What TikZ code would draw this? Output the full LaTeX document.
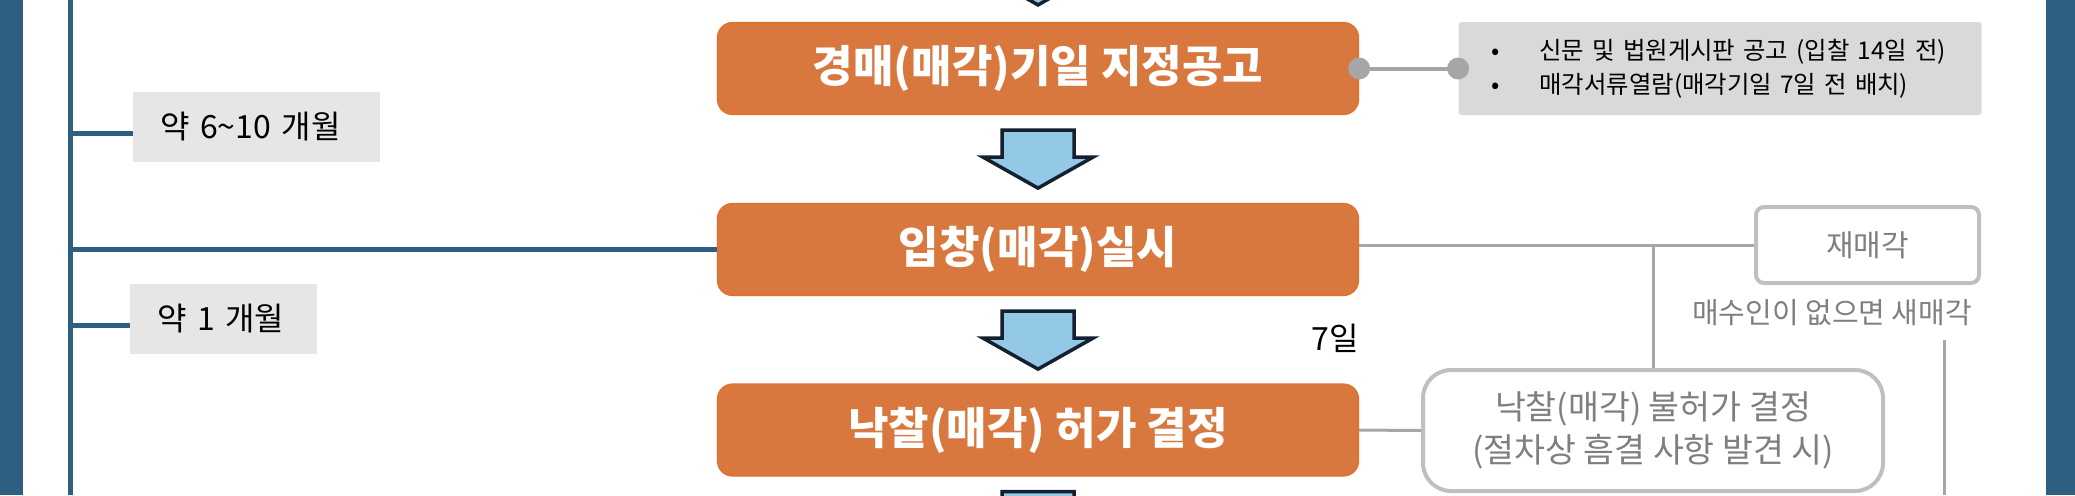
\documentclass[tikz,border=0pt]{standalone}
\usepackage{fontspec}
\setmainfont{Noto Sans CJK KR}
\usepackage{tikz}
\usetikzlibrary{positioning, calc}
\definecolor{frameblue}{RGB}{46,94,130}
\definecolor{stepfill}{RGB}{217,120,62}
\definecolor{stepedge}{RGB}{226,112,38}
\definecolor{arrowfill}{RGB}{147,201,231}
\definecolor{arrowedge}{RGB}{20,32,46}
\definecolor{notegray}{RGB}{217,217,217}
\definecolor{labelgray}{RGB}{230,230,230}
\definecolor{linegray}{RGB}{166,166,166}
\definecolor{boxgray}{RGB}{191,191,191}
\definecolor{textgray}{RGB}{127,127,127}

\begin{document}
\begin{tikzpicture}[
  x=0.5pt, y=-0.5pt,
  stepbox/.style={draw=stepedge, line width=0.6pt, fill=stepfill, rounded corners=7.5pt,
                  minimum width=320.5pt, minimum height=46pt, text=white,
                  font=\fontsize{22}{26}\selectfont\bfseries},
  period/.style={fill=labelgray, minimum height=35pt, inner xsep=13.5pt, align=left,
                 font=\fontsize{16}{19}\selectfont},
  note/.style={fill=notegray, rounded corners=1.5pt, minimum height=46.5pt,
               inner xsep=16.5pt, text width=228.5pt, align=left,
               font=\fontsize{12.2}{17}\selectfont},
  outcome/.style={draw=boxgray, line width=2pt, text=textgray, align=center},
  graytext/.style={text=textgray, font=\fontsize{14.5}{17}\selectfont},
  timeline/.style={frameblue, line width=2.5pt},
  link/.style={linegray, line width=1.5pt},
  dot/.style={circle, fill=linegray, inner sep=0pt, minimum size=11pt},
  downarrow/.pic={\draw[arrowedge, fill=arrowfill, line width=1.75pt, miter limit=10]
    (-36,0) -- (36,0) -- (36,27) -- (55,27) -- (0,58) -- (-55,27) -- (-36,27) -- cycle;}
]
\useasboundingbox (0,0) rectangle (2075,495);

% frame and time line
\fill[frameblue] (0,0) rectangle (23,495);
\fill[frameblue] (2046,0) rectangle (2075,495);
\coordinate (tltop) at (70.5,0);
\coordinate (tlbot) at (70.5,495);
\draw[timeline] (tltop) -- (tlbot);

% steps
\node[stepbox] (A) at (1038,68.5) {경매(매각)기일 지정공고};
\node[stepbox] (B) at (1038,249.5) {입창(매각)실시};
\node[stepbox] (C) at (1038,430) {낙찰(매각) 허가 결정};

\pic at ($(A.north)+(0,-75)$) {downarrow};
\pic at ($(A.south)+(0,15)$) {downarrow};
\pic at ($(B.south)+(0,15)$) {downarrow};
\pic at ($(C.south)+(0,15)$) {downarrow};

% periods
\node[period, text width=96.5pt] (L1) at (256.5,127) {약 6\textasciitilde10 개월};
\node[period, text width=66.5pt] (L2) at (223.5,319) {약 1 개월};
\draw[timeline] ($(tltop |- L1.west)+(0,6)$) -- ($(L1.west)+(0,6)$);
\draw[timeline] ($(tltop |- L2.west)+(0,6)$) -- ($(L2.west)+(0,6)$);
\draw[timeline] (tltop |- B.west) -- (B.west);

% notice
\node[note, right=49.5pt of A] (N) {%
\makebox[24pt][l]{•}신문 및 법원게시판 공고 (입찰 14일 전)\\
\makebox[24pt][l]{•}매각서류열람(매각기일 7일 전 배치)};
\draw[link, line width=2pt] (A.east) -- (N.west);
\node[dot] (dA) at (A.east) {};
\node[dot] (dN) at (N.west) {};

% outcomes
\node[outcome, rounded corners=4pt, minimum width=111.5pt, minimum height=38pt,
      font=\fontsize{15}{18}\selectfont] (R) at (1867.5,245) {재매각};
\node[graytext, anchor=east] (Rnote) at (1979,313) {매수인이 없으면 새매각};
\node[outcome, rounded corners=14pt, minimum width=230pt, minimum height=60.5pt,
      font=\fontsize{16.8}{21.5}\selectfont]
  (F) at (1653,430.5) {낙찰(매각) 불허가 결정\\(절차상 흠결 사항 발견 시)};
\node[font=\fontsize{16}{18}\selectfont] (seven) at (1335,338) {7일};

\draw[link] (B.east |- R.west) -- (R.west);
\draw[link] (F.north) -- (F.north |- R.west);
\draw[link] (C.east) -- (F.west);
\coordinate (redotop) at (1944,340);
\coordinate (redobot) at (1944,495);
\draw[link] (redotop) -- (redobot);
\end{tikzpicture}
\end{document}
